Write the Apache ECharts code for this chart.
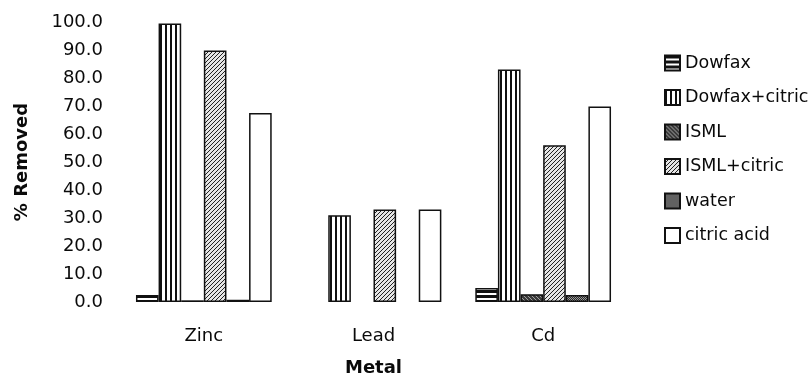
<!DOCTYPE html>
<html>
<head>
<meta charset="utf-8">
<script src="https://cdn.jsdelivr.net/npm/echarts@6/dist/echarts.min.js"></script>
<style>
html,body{margin:0;padding:0;background:#fff;}
#chart{width:810px;height:380px;}
</style>
</head>
<body>
<div id="chart"></div>
<script>
var categories = ['Zinc', 'Lead', 'Cd'];
var seriesNames = ['Dowfax', 'Dowfax+citric', 'ISML', 'ISML+citric', 'water', 'citric acid'];
var dowfax       = [2.5, null, 5.0];
var dowfaxCitric = [99.5, 31.0, 83.0];
var isml         = [0.6, null, 2.8];
var ismlCitric   = [89.8, 33.0, 56.0];
var water        = [0.8, null, 2.5];
var citricAcid   = [67.5, 33.0, 69.8];
var yTicks = [0, 10, 20, 30, 40, 50, 60, 70, 80, 90, 100];

var values = [dowfax, dowfaxCitric, isml, ismlCitric, water, citricAcid];

function makePattern(kind) {
  var c = document.createElement('canvas');
  var ctx;
  if (kind === 'hstripe') {
    c.width = 4; c.height = 5; ctx = c.getContext('2d');
    ctx.fillStyle = '#111'; ctx.fillRect(0, 0, 4, 5);
    ctx.fillStyle = '#fff'; ctx.fillRect(0, 3, 4, 2);
  } else if (kind === 'vstripe') {
    c.width = 5; c.height = 4; ctx = c.getContext('2d');
    ctx.fillStyle = '#fff'; ctx.fillRect(0, 0, 5, 4);
    ctx.fillStyle = '#111'; ctx.fillRect(0, 0, 2, 4);
  } else if (kind === 'darkdiag') {
    c.width = 4; c.height = 4; ctx = c.getContext('2d');
    ctx.fillStyle = '#3a3a3a'; ctx.fillRect(0, 0, 4, 4);
    ctx.fillStyle = '#a0a0a0';
    for (var i = 0; i < 4; i++) { ctx.fillRect(i, i, 1, 1); }
  } else if (kind === 'lightdiag') {
    c.width = 4; c.height = 4; ctx = c.getContext('2d');
    ctx.fillStyle = '#e6e6e6'; ctx.fillRect(0, 0, 4, 4);
    ctx.fillStyle = '#222';
    for (var j = 0; j < 4; j++) { ctx.fillRect(3 - j, j, 1, 1); }
  } else if (kind === 'checker') {
    c.width = 2; c.height = 2; ctx = c.getContext('2d');
    ctx.fillStyle = '#2a2a2a'; ctx.fillRect(0, 0, 2, 2);
    ctx.fillStyle = '#9a9a9a'; ctx.fillRect(0, 0, 1, 1); ctx.fillRect(1, 1, 1, 1);
  } else {
    return '#ffffff';
  }
  return { image: c, repeat: 'repeat' };
}

var fills = [
  makePattern('hstripe'),
  makePattern('vstripe'),
  makePattern('darkdiag'),
  makePattern('lightdiag'),
  makePattern('checker'),
  '#ffffff'
];

var FONT = 'DejaVu Sans';
var INK = '#0a0a0a';

var series = seriesNames.map(function (name, k) {
  return {
    name: name,
    type: 'bar',
    data: values[k],
    barGap: '0%',
    barCategoryGap: '20%',
    itemStyle: { color: fills[k], borderColor: '#111', borderWidth: 1.5 },
    emphasis: { disabled: true },
    animation: false
  };
});

var chart = echarts.init(document.getElementById('chart'), null, { renderer: 'canvas' });
chart.setOption({
  backgroundColor: '#ffffff',
  animation: false,
  textStyle: { fontFamily: FONT },
  grid: { left: 119, right: 182, top: 22, bottom: 78, containLabel: false, outerBoundsMode: 'none' },
  legend: {
    orient: 'vertical',
    left: 659,
    top: 49,
    icon: 'rect',
    itemWidth: 15,
    itemHeight: 15,
    itemGap: 16.5,
    textStyle: { fontFamily: FONT, fontSize: 17.5, color: INK },
    data: seriesNames
  },
  xAxis: {
    type: 'category',
    data: categories,
    name: 'Metal',
    nameLocation: 'middle',
    nameGap: 57,
    nameTextStyle: { fontFamily: FONT, fontSize: 18, fontWeight: 'bold', color: INK },
    axisLine: { show: false },
    axisTick: { show: false },
    axisLabel: { margin: 25, fontFamily: FONT, fontSize: 18, color: INK }
  },
  yAxis: {
    type: 'value',
    min: yTicks[0],
    max: yTicks[yTicks.length - 1],
    interval: 10,
    name: '% Removed',
    nameLocation: 'middle',
    nameGap: 88,
    nameTextStyle: { fontFamily: FONT, fontSize: 18, fontWeight: 'bold', color: INK },
    axisLine: { show: false },
    axisTick: { show: false },
    splitLine: { show: false },
    axisLabel: {
      margin: 16,
      fontFamily: FONT,
      fontSize: 18,
      color: INK,
      formatter: function (v) { return v.toFixed(1); }
    }
  },
  series: series
});
</script>
</body>
</html>
